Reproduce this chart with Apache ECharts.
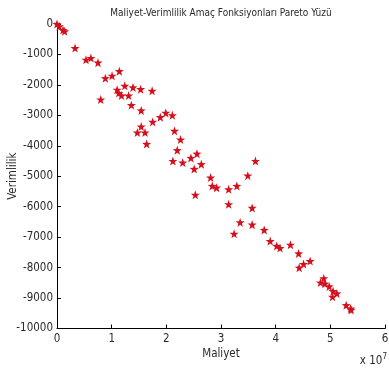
<!DOCTYPE html>
<html>
<head>
<meta charset="utf-8">
<script src="https://cdn.jsdelivr.net/npm/echarts@6/dist/echarts.min.js"></script>
<style>
  html, body { margin: 0; padding: 0; background: #fff; }
  #chart { width: 389px; height: 370px; }
</style>
</head>
<body>
<div id="chart"></div>
<script>
// Cost values, in units of 10^7
const maliyet = [
  0.00, 0.04, 0.11, 0.14, 0.33, 0.53, 0.62, 0.75, 0.885, 1.007,
  1.14, 1.10, 1.13, 1.18, 1.24, 1.31, 1.39, 1.53, 1.74, 0.80,
  1.36, 1.54, 1.54, 1.47, 1.61, 1.64, 1.75, 1.89, 1.99, 2.11,
  2.15, 2.26, 2.20, 2.12, 2.30, 2.45, 2.51, 2.56, 2.64, 2.81,
  2.84, 2.92, 3.14, 3.29, 3.49, 3.63, 2.53, 3.14, 3.57, 3.35,
  3.57, 3.24, 3.79, 3.90, 4.02, 4.08, 4.27, 4.42, 4.63, 4.51,
  4.43, 4.82, 4.88, 4.90, 4.98, 5.05, 5.12, 5.04, 5.29, 5.37,
  5.38
];
// Efficiency values
const verimlilik = [
  0, -80, -200, -240, -790, -1175, -1120, -1270, -1780, -1700,
  -1550, -2160, -2270, -2350, -2030, -2350, -2085, -2140, -2195, -2480,
  -2665, -2840, -3370, -3565, -3565, -3940, -3215, -3060, -2920, -3000,
  -3510, -3795, -4145, -4500, -4550, -4400, -4760, -4260, -4605, -5045,
  -5320, -5375, -5430, -5320, -4980, -4500, -5610, -5920, -6040, -6515,
  -6590, -6890, -6765, -7130, -7290, -7360, -7250, -7535, -7785, -7885,
  -8005, -8490, -8355, -8530, -8620, -8775, -8850, -8960, -9235, -9345,
  -9390
];
const xTicks = [0, 1, 2, 3, 4, 5, 6];
const yTicks = [0, -1000, -2000, -3000, -4000, -5000, -6000, -7000, -8000, -9000, -10000];

const points = maliyet.map((x, i) => [x, verimlilik[i]]);
const star = 'path://M0,-10L2.35,-3.24L9.51,-3.09L3.8,1.24L5.88,8.09L0,4L-5.88,8.09L-3.8,1.24L-9.51,-3.09L-2.35,-3.24Z';
const font = '"Liberation Sans Narrow", "DejaVu Sans Condensed", "Liberation Sans", sans-serif';
const textColor = '#2a2a2a';

const chart = echarts.init(document.getElementById('chart'), null, { renderer: 'canvas' });
chart.setOption({
  animation: false,
  backgroundColor: '#ffffff',
  title: {
    text: 'Maliyet-Verimlilik Amaç Fonksiyonları Pareto Yüzü',
    left: 216, top: 3, textAlign: 'center',
    textStyle: { fontFamily: font, fontSize: 10, fontWeight: 'normal', color: textColor }
  },
  grid: { left: 57, right: 4, top: 24, bottom: 41.5, containLabel: false, outerBoundsMode: 'none' },
  xAxis: {
    type: 'value',
    min: xTicks[0], max: xTicks[xTicks.length - 1], interval: 1,
    name: 'Maliyet', nameLocation: 'middle', nameGap: 20, nameMoveOverlap: false,
    nameTextStyle: { fontFamily: font, fontSize: 11.5, color: textColor },
    axisLine: { show: true, onZero: false, lineStyle: { color: '#000', width: 1 } },
    axisTick: { show: true, inside: true, length: 4, lineStyle: { color: '#000' } },
    axisLabel: { fontFamily: font, fontSize: 11.5, color: textColor, margin: 5,
      formatter: v => String(v) },
    splitLine: { show: false }
  },
  yAxis: {
    type: 'value',
    min: yTicks[yTicks.length - 1], max: yTicks[0], interval: 1000,
    name: 'Verimlilik', nameLocation: 'middle', nameGap: 38, nameRotate: 90, nameMoveOverlap: false,
    nameTextStyle: { fontFamily: font, fontSize: 11.5, color: textColor },
    axisLine: { show: true, onZero: false, lineStyle: { color: '#000', width: 1 } },
    axisTick: { show: true, inside: true, length: 4, lineStyle: { color: '#000' } },
    axisLabel: { fontFamily: font, fontSize: 11.5, color: textColor, margin: 4,
      formatter: v => String(v) },
    splitLine: { show: false }
  },
  graphic: [{
    type: 'text', right: 2, top: 353,
    style: { rich: {
      a: { fontFamily: font, fontSize: 11.5, fill: textColor },
      b: { fontFamily: font, fontSize: 8, fill: textColor, verticalAlign: 'top', padding: [0, 0, 8, 0] }
    }, text: '{a|x 10}{b|7}' }
  }],
  series: [{
    type: 'scatter',
    data: points,
    symbol: star,
    symbolSize: 9,
    itemStyle: { color: '#d4101c', opacity: 1 }
  }]
});
</script>
</body>
</html>
